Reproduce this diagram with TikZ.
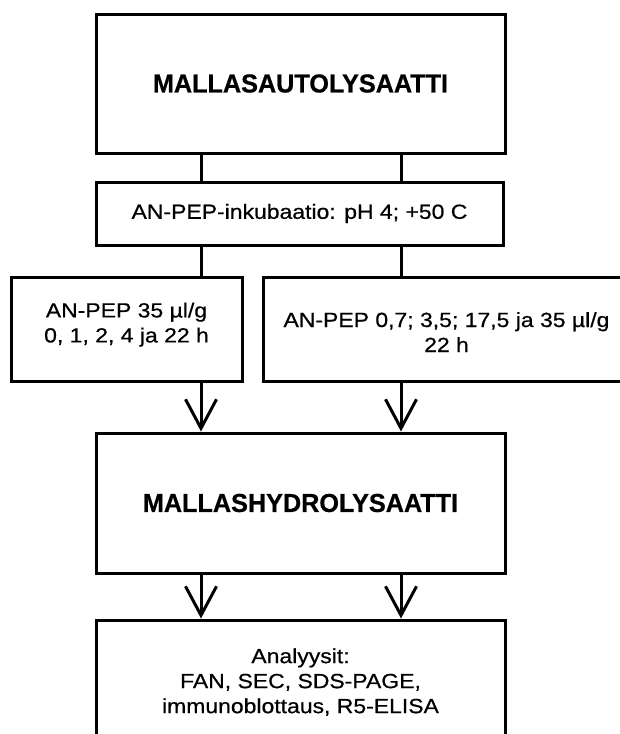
\documentclass[tikz,border=0pt]{standalone}
\usepackage{fontspec}
\setmainfont[FakeStretch=1.12, FakeBold=0.6]{Liberation Sans}
\newfontfamily\headfont[FakeStretch=0.97, FakeBold=0.6]{Liberation Sans Bold}
\usetikzlibrary{arrows.meta, positioning}
\tikzstyle{box}=[rectangle, draw=black, line width=3pt, align=center, inner sep=0pt, font=\fontsize{20.5}{25}\selectfont]
\tikzstyle{bigbox}=[box, minimum width=409pt, font=\headfont\fontsize{26}{30}\selectfont]
\tikzstyle{link}=[line width=3pt]
\tikzstyle{flow}=[link, -{Straight Barb[length=29pt, width=31pt]}]

\begin{document}
\begin{tikzpicture}[x=1pt, y=-1pt]
  \useasboundingbox (0,0) rectangle (620,734);
  \clip (0,0) rectangle (620,734);
  \coordinate (lx) at (201,0);
  \coordinate (rx) at (401,0);

  \node[bigbox, minimum height=139pt] (auto) at (300.5,83.5) {MALLASAUTOLYSAATTI};
  \node[box, minimum width=407pt, minimum height=63pt] (inku) at (299.5,213.5) {AN-PEP-inkubaatio: pH 4; +50 C};
  \node[box, minimum width=231pt, minimum height=104pt] (aika) at (126.5,329) {AN-PEP 35 µl/g\\0, 1, 2, 4 ja 22 h\\[-12pt]};
  \node[box, minimum width=367pt, minimum height=104pt] (annos) at (446.5,329) {\\[-4pt]AN-PEP 0,7; 3,5; 17,5 ja 35 µl/g\\22 h};
  \node[bigbox, minimum height=140pt] (hydro) at (300.5,503) {MALLASHYDROLYSAATTI};
  \node[box, minimum width=409pt, minimum height=124pt] (anal) at (300.5,682) {Analyysit:\\FAN, SEC, SDS-PAGE,\\immunoblottaus, R5-ELISA};

  \draw[link] (auto.south -| lx) -- (inku.north -| lx);
  \draw[link] (auto.south -| rx) -- (inku.north -| rx);
  \draw[link] (inku.south -| lx) -- (aika.north -| lx);
  \draw[link] (inku.south -| rx) -- (annos.north -| rx);
  \draw[flow] (aika.south -| lx) -- (hydro.north -| lx);
  \draw[flow] (annos.south -| rx) -- (hydro.north -| rx);
  \draw[flow] (hydro.south -| lx) -- (anal.north -| lx);
  \draw[flow] (hydro.south -| rx) -- (anal.north -| rx);
\end{tikzpicture}
\end{document}
